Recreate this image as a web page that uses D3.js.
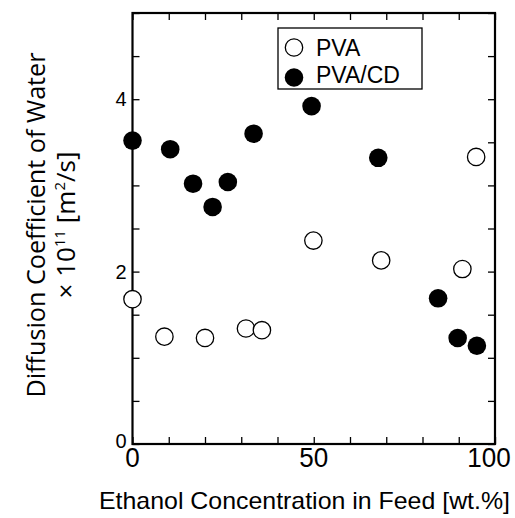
<!DOCTYPE html>
<html><head><meta charset="utf-8">
<script src="https://cdn.jsdelivr.net/npm/d3@7"></script>
<style>body{margin:0;background:#fff}svg{display:block}text{font-family:"Liberation Sans",Arial,sans-serif;fill:#000}</style>
</head><body>
<script>
// Data
const pvaX = [0, 8.8, 20, 31.3, 35.7, 49.9, 68.6, 91.0, 94.8];
const pvaY = [1.68, 1.245, 1.23, 1.34, 1.32, 2.36, 2.13, 2.03, 3.33];
const cdX = [0, 10.4, 16.7, 22.1, 26.3, 33.4, 49.4, 67.8, 84.3, 89.7, 95.0];
const cdY = [3.52, 3.42, 3.02, 2.75, 3.04, 3.60, 3.92, 3.32, 1.69, 1.23, 1.14];
const xTicks = [0, 10, 20, 30, 40, 50, 60, 70, 80, 90, 100];
const xLabels = [0, 50, 100];
const yTicks = [0, 0.5, 1, 1.5, 2, 2.5, 3, 3.5, 4, 4.5, 5];
const yLabels = [0, 2, 4];
const seriesNames = ["PVA", "PVA/CD"];

const W = 515, H = 518;
const L = 132.5, R = 495, T = 13, B = 444;
const svg = d3.select("body").append("svg").attr("width", W).attr("height", H);
const x = d3.scaleLinear().domain([0, 100]).range([L, R]);
const y = d3.scaleLinear().domain([0, 5]).range([B, T]);
const TL = 7;

function styleTicks(g) { g.select(".domain").remove(); g.selectAll("line").attr("stroke", "#000").attr("stroke-width", 1.3); }
svg.append("g").attr("transform", `translate(0,${B})`)
  .call(d3.axisTop(x).tickValues(xTicks).tickSize(TL).tickFormat("")).call(styleTicks);
svg.append("g").attr("transform", `translate(0,${T})`)
  .call(d3.axisBottom(x).tickValues(xTicks).tickSize(TL).tickFormat("")).call(styleTicks);
svg.append("g").attr("transform", `translate(${L},0)`)
  .call(d3.axisRight(y).tickValues(yTicks).tickSize(TL).tickFormat("")).call(styleTicks);
svg.append("g").attr("transform", `translate(${R},0)`)
  .call(d3.axisLeft(y).tickValues(yTicks).tickSize(TL).tickFormat("")).call(styleTicks);

// Frame
svg.append("rect").attr("x", L).attr("y", T).attr("width", R - L).attr("height", B - T)
  .attr("fill", "none").attr("stroke", "#000").attr("stroke-width", 2.2);

// Tick labels
svg.append("g").selectAll("text").data(xLabels).join("text")
  .attr("x", d => x(d) - (d === 100 ? 6 : 0)).attr("y", B + 23).attr("text-anchor", "middle")
  .attr("font-size", 27).attr("textLength", d => String(d).length * 14.5)
  .attr("lengthAdjust", "spacingAndGlyphs").text(d => d);
svg.append("g").selectAll("text").data(yLabels).join("text")
  .attr("x", L - 6).attr("y", d => y(d) + 7 - (d === 0 ? 3 : 0)).attr("text-anchor", "end")
  .attr("font-size", 20).text(d => d);

// Titles
svg.append("text").attr("x", 99).attr("y", 509).attr("font-size", 24)
  .attr("textLength", 411).attr("lengthAdjust", "spacingAndGlyphs")
  .text("Ethanol Concentration in Feed [wt.%]");
const yt = svg.append("g").attr("transform", "translate(45,225) rotate(-90)");
yt.append("text").attr("x", 0).attr("y", 0).attr("text-anchor", "middle").attr("font-size", 25)
  .style("font-family", "'Open Sans', sans-serif")
  .attr("textLength", 345).attr("lengthAdjust", "spacingAndGlyphs")
  .text("Diffusion Coefficient of Water");
const l2 = yt.append("text").attr("x", 0).attr("y", 30).attr("text-anchor", "middle").attr("font-size", 26)
  .style("font-family", "'Open Sans', sans-serif");
l2.append("tspan").text("× 10");
l2.append("tspan").attr("dy", -10).attr("font-size", 15).text("11");
l2.append("tspan").attr("dy", 10).text(" [m");
l2.append("tspan").attr("dy", -10).attr("font-size", 15).text("2");
l2.append("tspan").attr("dy", 10).text("/s]");

// Points
const rr = 9.3;
svg.append("g").selectAll("circle").data(pvaX.map((d, i) => [d, pvaY[i]])).join("circle")
  .attr("cx", d => x(d[0])).attr("cy", d => y(d[1])).attr("r", rr - 0.6)
  .attr("fill", "#fff").attr("stroke", "#000").attr("stroke-width", 1.3);
svg.append("g").selectAll("circle").data(cdX.map((d, i) => [d, cdY[i]])).join("circle")
  .attr("cx", d => x(d[0])).attr("cy", d => y(d[1])).attr("r", rr).attr("fill", "#000");

// Legend
const lg = svg.append("g");
lg.append("rect").attr("x", 278).attr("y", 28).attr("width", 144).attr("height", 61)
  .attr("fill", "#fff").attr("stroke", "#000").attr("stroke-width", 1.3);
lg.append("circle").attr("cx", 294).attr("cy", 47.5).attr("r", rr - 0.6)
  .attr("fill", "#fff").attr("stroke", "#000").attr("stroke-width", 1.3);
lg.append("circle").attr("cx", 294).attr("cy", 77.5).attr("r", rr).attr("fill", "#000");
lg.selectAll("text.l").data(seriesNames).join("text").attr("class", "l")
  .attr("x", 316).attr("y", (d, i) => 56 + i * 27).attr("font-size", 23).text(d => d);
</script>
</body></html>
